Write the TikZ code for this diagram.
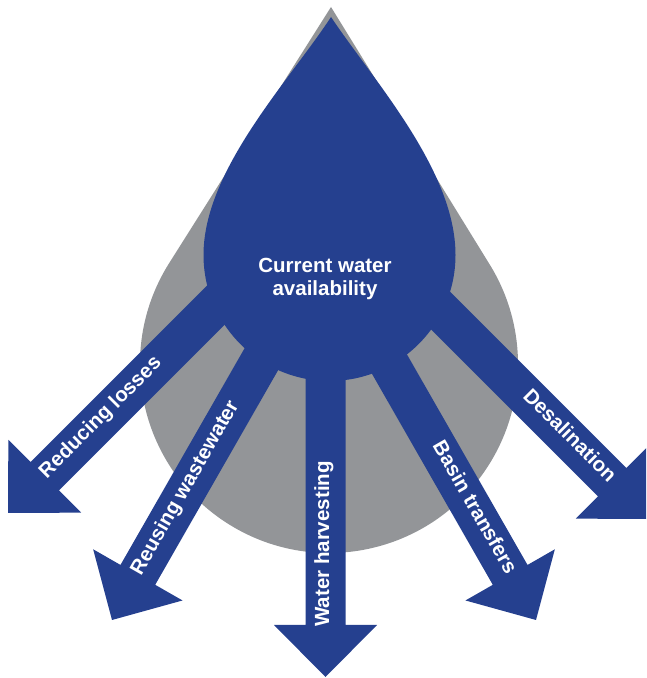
\documentclass[tikz,border=0pt]{standalone}
\usepackage{fontspec}
\setmainfont{Liberation Sans}
\usetikzlibrary{calc}
\definecolor{dropblue}{RGB}{37,64,143}
\definecolor{dropgray}{RGB}{147,149,152}
\tikzset{
  lbl/.style={text=white, font=\bfseries\fontsize{20.5}{23.5}\selectfont, inner sep=0pt,
    text height=0.716em, text depth=0pt, anchor=center, transform shape},
  fatarrow/.style={fill=dropblue},
}
\begin{document}
\begin{tikzpicture}[x=1pt,y=1pt]
\path[use as bounding box] (0,0) rectangle (646,678);
\clip (0,0) rectangle (646,678);
% grey drop
\coordinate (gtip) at (331,671);
\coordinate (gc) at (329,314);
\fill[dropgray] (gtip) -- ($(gc)+(148:189)$) arc[start angle=148, end angle=392, radius=189] -- cycle;
% blue drop
\coordinate (btip) at (331,661);
\fill[dropblue] (btip) .. controls (290,598) and (203.5,508) .. (203.5,423)
  arc[start angle=180, end angle=360, radius=126]
  .. controls (455.5,508) and (373,598) .. (btip);
% arrows: tip, direction, length
\begin{scope}[shift={(8,165)}, rotate=225]
  \fill[fatarrow] (0,0) -- (-52,51.5) -- (-52,20) -- (-380,20) -- (-380,-20) -- (-52,-20) -- (-52,-51.5) -- cycle;
  \node[lbl, rotate=180] (l1) at (-133,0) {Reducing losses};
\end{scope}
\begin{scope}[shift={(112,58)}, rotate=240.2]
  \fill[fatarrow] (0,0) -- (-52,51.5) -- (-52,20) -- (-400,20) -- (-400,-20) -- (-52,-20) -- (-52,-51.5) -- cycle;
  \node[lbl, rotate=180] (l2) at (-151,0) {Reusing wastewater};
\end{scope}
\begin{scope}[shift={(325.5,1)}, rotate=270]
  \fill[fatarrow] (0,0) -- (-52,51.5) -- (-52,20) -- (-420,20) -- (-420,-20) -- (-52,-20) -- (-52,-51.5) -- cycle;
  \node[lbl, rotate=180] (l3) at (-133,0) {Water harvesting};
\end{scope}
\begin{scope}[shift={(536,58)}, rotate=299.8]
  \fill[fatarrow] (0,0) -- (-52,51.5) -- (-52,20) -- (-400,20) -- (-400,-20) -- (-52,-20) -- (-52,-51.5) -- cycle;
  \node[lbl] (l4) at (-128,0) {Basin transfers};
\end{scope}
\begin{scope}[shift={(649,159)}, rotate=315]
  \fill[fatarrow] (0,0) -- (-52,51.5) -- (-52,20) -- (-380,20) -- (-380,-20) -- (-52,-20) -- (-52,-51.5) -- cycle;
  \node[lbl] (l5) at (-115,0) {Desalination};
\end{scope}
\node[text=white, font=\bfseries\fontsize{20.5}{23.5}\selectfont, align=center, inner sep=0pt] (cur) at (325,399) {Current water\\availability};
\end{tikzpicture}
\end{document}
